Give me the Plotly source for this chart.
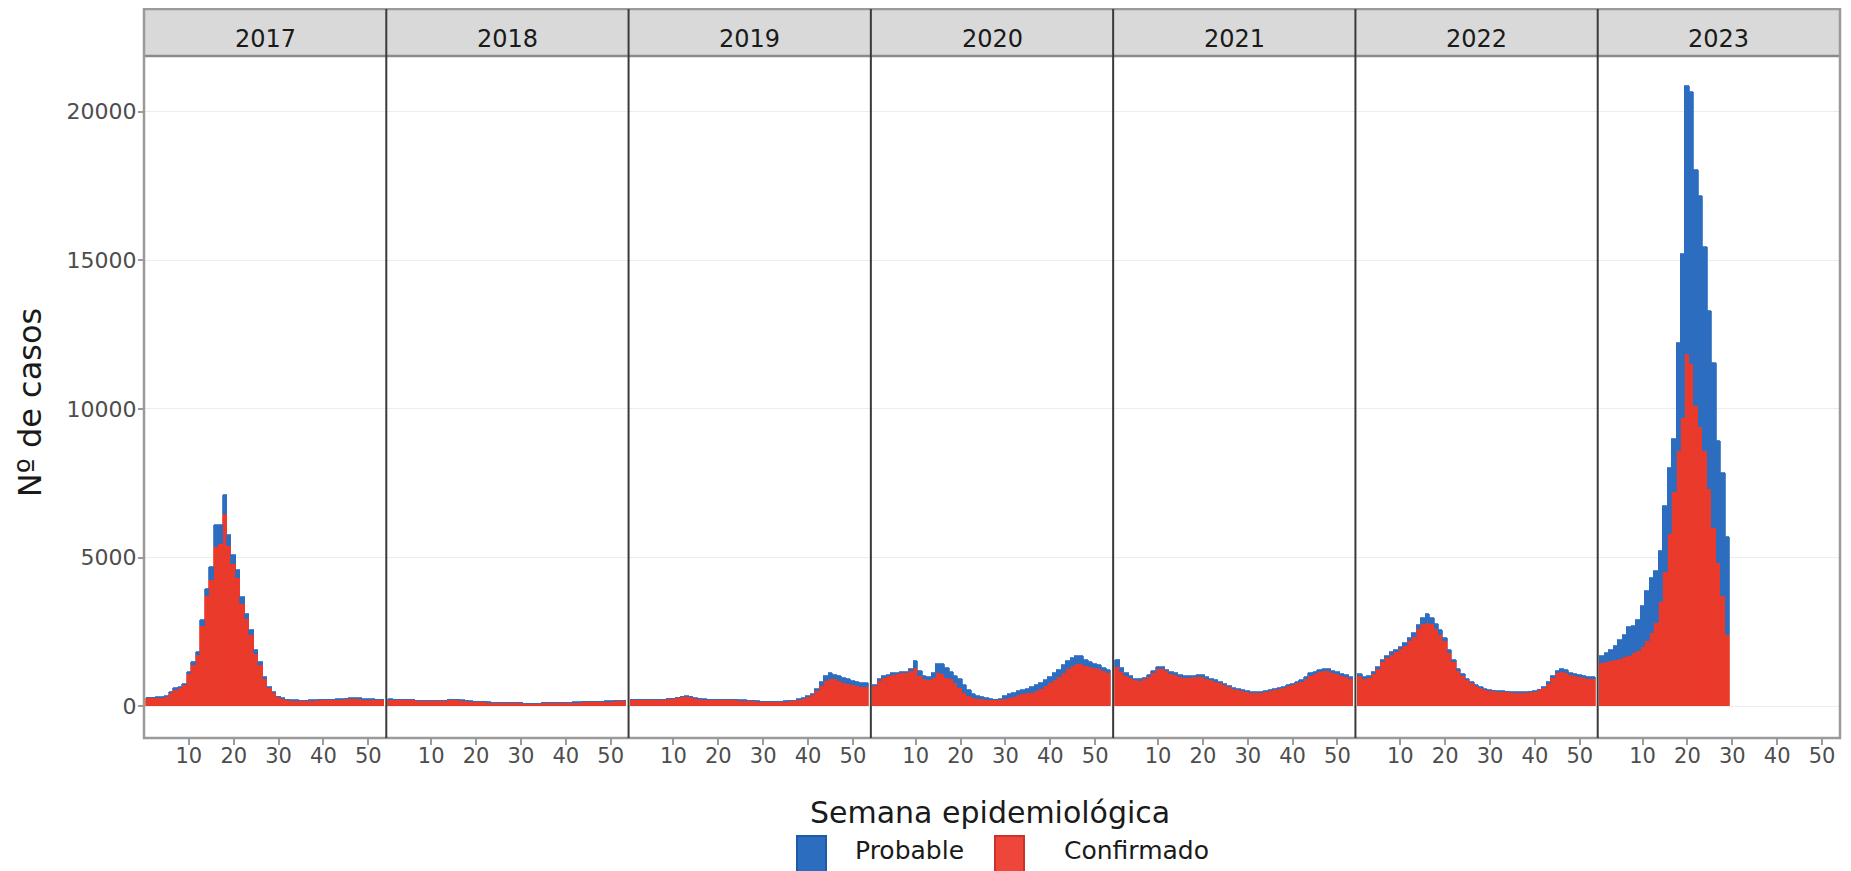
import plotly.graph_objects as go
from plotly.subplots import make_subplots

years = ["2017", "2018", "2019", "2020", "2021", "2022", "2023"]

# Total height of the stack (Confirmado + Probable) per epidemiological week
total_2017 = [290, 290, 300, 310, 340, 480, 600, 650, 760, 1150,
              1490, 1830, 2900, 3950, 4680, 6080, 6080, 7090, 5745, 5070,
              4570, 3670, 3110, 2550, 1880, 1490, 985, 650, 480, 315,
              260, 220, 200, 200, 190, 190, 200, 200, 210, 210,
              220, 220, 230, 240, 250, 260, 260, 260, 250, 240,
              230, 220, 210]
conf_2017 = [270, 270, 280, 290, 320, 450, 560, 610, 710, 1080,
             1400, 1720, 2700, 3700, 4230, 5350, 5450, 6480, 5400, 4780,
             4300, 3450, 2920, 2400, 1770, 1400, 920, 610, 450, 295,
             240, 205, 185, 185, 175, 175, 185, 185, 195, 195,
             200, 200, 210, 220, 230, 235, 235, 235, 225, 220,
             210, 200, 195]

total_2018 = [230, 225, 220, 215, 210, 200, 190, 180, 175, 175,
              180, 185, 190, 200, 215, 210, 195, 175, 160, 150,
              140, 130, 125, 120, 115, 110, 105, 100, 95, 95,
              90, 90, 90, 90, 95, 95, 100, 105, 110, 115,
              120, 125, 130, 135, 140, 145, 150, 155, 160, 165,
              170, 175, 180]
conf_2018 = [222, 218, 213, 208, 203, 194, 184, 174, 169, 169,
             174, 178, 183, 192, 206, 202, 188, 169, 155, 145,
             136, 126, 121, 116, 111, 106, 101, 96, 91, 91,
             86, 86, 86, 86, 91, 91, 96, 100, 105, 110,
             115, 119, 124, 128, 133, 137, 142, 146, 151, 155,
             160, 164, 168]

total_2019 = [200, 205, 210, 205, 210, 215, 220, 225, 235, 250,
              270, 320, 330, 310, 260, 240, 230, 225, 220, 220,
              220, 215, 210, 205, 200, 195, 185, 175, 165, 155,
              150, 150, 150, 155, 160, 170, 190, 230, 270, 330,
              420, 580, 800, 1000, 1100, 1060, 1000, 950, 900, 860,
              820, 790, 770]
conf_2019 = [195, 198, 203, 198, 203, 208, 212, 217, 226, 240,
             260, 305, 315, 297, 250, 231, 221, 216, 211, 211,
             211, 206, 201, 196, 191, 186, 177, 167, 157, 148,
             143, 143, 143, 148, 152, 162, 180, 215, 250, 300,
             380, 510, 690, 850, 930, 900, 840, 790, 745, 705,
             670, 650, 640]

total_2020 = [720, 900, 1000, 1060, 1110, 1130, 1150, 1160, 1260, 1520,
              1200, 1000, 990, 1100, 1430, 1430, 1300, 1150, 1030, 900,
              700, 540, 420, 340, 300, 280, 250, 225, 250, 330,
              400, 450, 500, 560, 590, 630, 700, 770, 880, 990,
              1100, 1230, 1380, 1520, 1630, 1680, 1680, 1570, 1500, 1430,
              1370, 1300, 1220]
conf_2020 = [690, 860, 960, 1010, 1060, 1080, 1100, 1110, 1180, 1270,
             1020, 900, 880, 950, 1100, 1080, 960, 900, 780, 620,
             450, 330, 270, 240, 230, 220, 210, 200, 210, 250,
             290, 320, 360, 400, 430, 460, 520, 580, 680, 780,
             880, 990, 1120, 1250, 1360, 1430, 1430, 1350, 1310, 1290,
             1250, 1200, 1130]

total_2021 = [1550, 1270, 1100, 1000, 930, 900, 950, 1040, 1190, 1320,
              1310, 1230, 1150, 1100, 1050, 1020, 1010, 1030, 1040, 1040,
              980, 930, 880, 820, 750, 680, 620, 570, 530, 500,
              490, 480, 490, 520, 550, 580, 620, 660, 710, 760,
              820, 880, 980, 1100, 1160, 1210, 1260, 1250, 1200, 1150,
              1090, 1040, 990]
conf_2021 = [1330, 1150, 1020, 940, 880, 850, 900, 980, 1120, 1240,
             1240, 1170, 1090, 1040, 990, 960, 950, 970, 980, 980,
             925, 880, 830, 775, 710, 640, 585, 535, 500, 470,
             460, 450, 460, 490, 515, 545, 580, 620, 665, 715,
             770, 830, 920, 1030, 1090, 1140, 1190, 1180, 1130, 1080,
             1025, 975, 930]

total_2022 = [1080, 990, 1000, 1150, 1330, 1545, 1700, 1810, 1900, 2000,
              2130, 2300, 2450, 2720, 2950, 3115, 2950, 2780, 2550, 2300,
              1900, 1550, 1250, 1070, 930, 800, 710, 630, 570, 540,
              525, 515, 500, 490, 480, 480, 480, 480, 490, 510,
              560, 640, 800, 1000, 1200, 1265, 1210, 1130, 1080, 1040,
              1000, 985, 980]
conf_2022 = [1000, 930, 940, 1080, 1260, 1470, 1620, 1730, 1820, 1910,
             2030, 2190, 2330, 2580, 2750, 2800, 2750, 2600, 2400, 2180,
             1800, 1480, 1190, 1020, 890, 765, 675, 600, 540, 515,
             500, 490, 475, 465, 455, 455, 455, 455, 465, 485,
             530, 605, 755, 940, 1130, 1150, 1130, 1060, 1010, 975,
             935, 920, 915]

total_2023 = [1700, 1780, 1900, 2010, 2235, 2385, 2650, 2685, 2910, 3360,
              3885, 4300, 4560, 5235, 6735, 8010, 8985, 12210, 15210, 20860,
              20650, 18050, 17150, 15440, 13300, 11560, 8910, 7850, 5680]
conf_2023 = [1450, 1480, 1520, 1560, 1600, 1650, 1700, 1780, 1850, 2000,
             2200, 2450, 2800, 3500, 4500, 5800, 7200, 8600, 9700, 11850,
             11500, 10100, 9400, 8600, 7300, 6000, 4800, 3700, 2400]

totals = [total_2017, total_2018, total_2019, total_2020, total_2021, total_2022, total_2023]
confirmed = [conf_2017, conf_2018, conf_2019, conf_2020, conf_2021, conf_2022, conf_2023]

x_ticks = [10, 20, 30, 40, 50]
x_tick_labels = ["10", "20", "30", "40", "50"]
y_ticks = [0, 5000, 10000, 15000, 20000]
y_tick_labels = ["0", "5000", "10000", "15000", "20000"]

series_names = ["Probable", "Confirmado"]
BLUE = "#2D6DC0"
RED = "#EA3A2B"

# figure is drawn inside the page's 8px body margin
W, H = 1843, 863
L, R, T, B = 136, 11, 47.5, 133
PW = W - L - R
PH = H - T - B


def px_x(p):
    return (p - L) / PW


def px_y(p):
    return (H - B - p) / PH


FONT = "DejaVu Sans"

fig = make_subplots(rows=1, cols=7, shared_yaxes=True, horizontal_spacing=0)

for i, yr in enumerate(years):
    tot = totals[i]
    conf = confirmed[i]
    prob = [t - c for t, c in zip(tot, conf)]
    weeks = list(range(1, len(tot) + 1))
    fig.add_trace(go.Bar(x=weeks, y=conf, name=series_names[1], marker_color=RED,
                         marker_line=dict(width=0.8, color=RED), showlegend=False),
                  row=1, col=i + 1)
    fig.add_trace(go.Bar(x=weeks, y=prob, name=series_names[0], marker_color=BLUE,
                         marker_line=dict(width=0.8, color=BLUE), showlegend=False),
                  row=1, col=i + 1)

for i in range(7):
    fig.update_xaxes(range=[0, 54], tickvals=x_ticks, ticktext=x_tick_labels,
                     ticks="outside", ticklen=6, tickwidth=1.5, tickcolor="#9A9A9A",
                     showgrid=False, zeroline=False, showline=False,
                     tickfont=dict(family=FONT, size=21, color="#4D4D4D"),
                     ticklabelstandoff=-7, row=1, col=i + 1)

fig.update_yaxes(range=[-1070, 21870], tickvals=y_ticks, ticktext=y_tick_labels,
                 showgrid=True, gridcolor="#EDEDED", gridwidth=1, zeroline=False,
                 showline=False)
fig.update_yaxes(ticks="outside", ticklen=5, tickwidth=1.5, tickcolor="#9A9A9A",
                 tickfont=dict(family=FONT, size=22, color="#4D4D4D"),
                 ticklabelstandoff=-3, row=1, col=1)

shapes = []
strip_top = px_y(0.5)
# strip background
shapes.append(dict(type="rect", xref="paper", yref="paper", x0=0, x1=1, y0=1, y1=strip_top,
                   fillcolor="#D9D9D9", line=dict(width=0), layer="below"))
# strip bottom line
shapes.append(dict(type="line", xref="paper", yref="paper", x0=0, x1=1, y0=1, y1=1,
                   line=dict(color="#8A8A8A", width=2.5)))
# outer border
shapes.append(dict(type="rect", xref="paper", yref="paper", x0=0, x1=1, y0=0, y1=strip_top,
                   line=dict(color="#9A9A9A", width=2.5), fillcolor="rgba(0,0,0,0)"))
# panel dividers
for k in range(1, 7):
    shapes.append(dict(type="line", xref="paper", yref="paper", x0=k / 7, x1=k / 7,
                       y0=0, y1=strip_top, line=dict(color="#3A3A3A", width=2)))

annotations = []
for i, yr in enumerate(years):
    annotations.append(dict(text=yr, xref="paper", yref="paper", x=(i + 0.5) / 7,
                            y=px_y(30), xanchor="center", yanchor="middle", showarrow=False,
                            font=dict(family=FONT, size=24, color="#1A1A1A")))

annotations.append(dict(text="Nº de casos", xref="paper", yref="paper", x=px_x(22), y=px_y(395),
                        xanchor="center", yanchor="middle", textangle=-90, showarrow=False,
                        font=dict(family=FONT, size=32, color="#1A1A1A")))
annotations.append(dict(text="Semana epidemiológica", xref="paper", yref="paper",
                        x=px_x(982), y=px_y(805), xanchor="center", yanchor="middle",
                        showarrow=False, font=dict(family=FONT, size=30, color="#1A1A1A")))

# legend (drawn manually)
leg = [(series_names[0], BLUE, "#1F5AA8", 789, 845), (series_names[1], "#EE463A", "#C9342A", 987, 1054)]
for name, fill, edge, bx, tx in leg:
    shapes.append(dict(type="rect", xref="paper", yref="paper", x0=px_x(bx), x1=px_x(bx + 29),
                       y0=px_y(864), y1=px_y(828), fillcolor=fill, line=dict(color=edge, width=2)))
    annotations.append(dict(text=name, xref="paper", yref="paper", x=px_x(tx), y=px_y(843),
                            xanchor="left", yanchor="middle", showarrow=False,
                            font=dict(family=FONT, size=25, color="#1A1A1A")))

fig.update_layout(width=W, height=H, margin=dict(l=L, r=R, t=T, b=B, pad=0),
                  barmode="stack", bargap=0, paper_bgcolor="white", plot_bgcolor="white",
                  showlegend=False, shapes=shapes, annotations=annotations,
                  font=dict(family=FONT))

fig.write_html("out.html")
